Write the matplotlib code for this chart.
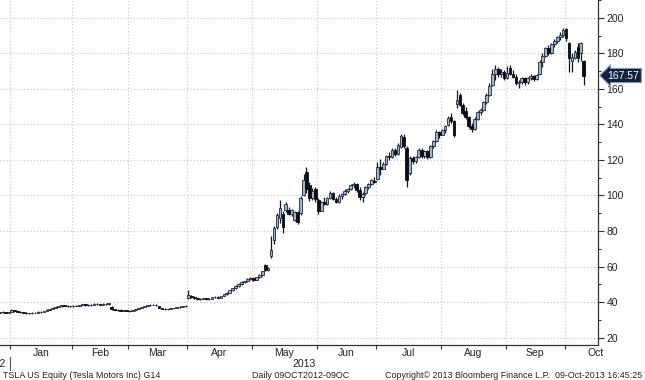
import matplotlib
matplotlib.use('Agg')
import matplotlib.pyplot as plt
import matplotlib.transforms as mtransforms
from matplotlib.lines import Line2D
import numpy as np
import pandas as pd

# TSLA daily OHLC, 26 Dec 2012 .. 09 Oct 2013
opens = [34.0, 34.3, 34.4, 33.9,
         34.6, 35.3, 34.8, 34.6, 34.3, 34.0, 33.8, 33.6, 34.0, 34.1, 34.6, 34.4, 35.0, 35.6, 36.0, 36.8, 37.4, 37.6, 38.1, 37.9, 37.7,
         37.6, 38.0, 37.8, 38.4, 38.7, 38.2, 38.6, 38.3, 39.0, 38.8, 38.5, 39.1, 38.8, 37.0, 35.9, 35.6, 35.4, 35.1, 35.3,
         35.2, 35.0, 35.4, 35.9, 36.6, 37.2, 37.7, 38.2, 38.5, 38.4, 37.6, 36.6, 36.1, 35.8, 36.0, 36.4, 36.7, 37.0, 37.4, 37.7,
         42.0, 43.5, 42.8, 42.1, 41.6, 41.9, 42.0, 41.5, 41.9, 42.6, 42.9, 42.5, 43.4, 44.3, 45.2, 46.5, 47.8, 49.0, 50.1, 51.3, 51.6, 53.0,
         53.6, 52.4, 53.9, 55.2, 60.8, 58.0, 66.0, 75.0, 82.0, 87.5, 89.8, 91.8, 91.8, 89.4, 86.0, 90.6, 90.0, 100.5, 113.0, 106.0, 98.5, 103.5,
         97.5, 91.5, 96.2, 95.3, 98.5, 101.6, 98.2, 96.4, 99.8, 100.6, 102.8, 103.5, 105.8, 106.2, 103.0, 99.0, 101.2, 104.8, 106.4, 108.0,
         109.5, 116.2, 115.2, 117.8, 122.0, 121.5, 125.8, 123.4, 127.5, 133.0, 126.8, 112.5, 121.0, 119.2, 121.5, 125.9, 122.4, 125.0, 121.6, 127.8, 130.8, 135.6,
         134.3, 136.8, 139.5, 144.0, 141.8, 151.5, 156.5, 151.2, 147.5, 144.2, 139.0, 137.2, 143.2, 146.8, 148.0, 152.4, 156.8, 162.0, 168.5, 171.5, 168.2, 169.6,
         166.0, 172.0, 168.5, 167.0, 163.5, 164.2, 166.1, 163.8, 165.9, 167.2, 165.4, 168.5, 175.2, 178.6, 182.8, 180.2, 185.2, 187.0, 189.4, 190.6,
         193.5, 185.8, 176.0, 177.5, 183.5, 180.0, 175.5]
highs = [34.6, 34.8, 34.6, 34.4,
         35.8, 35.5, 35.0, 34.8, 34.5, 34.3, 34.0, 34.2, 34.4, 34.8, 34.8, 35.2, 35.8, 36.3, 37.0, 37.6, 37.9, 38.4, 38.3, 38.1, 38.0,
         38.3, 38.2, 38.6, 38.9, 38.9, 38.8, 38.8, 39.2, 39.3, 39.0, 39.3, 39.5, 39.4, 37.5, 36.3, 36.0, 35.8, 35.6, 35.7,
         35.5, 35.6, 36.1, 36.8, 37.4, 37.9, 38.4, 38.7, 38.9, 38.7, 37.8, 36.9, 36.4, 36.2, 36.6, 36.9, 37.2, 37.6, 37.9, 38.1,
         46.5, 44.0, 43.2, 42.5, 42.2, 42.4, 42.2, 42.1, 42.8, 43.3, 43.6, 43.6, 44.6, 45.5, 46.8, 48.1, 49.4, 50.6, 51.7, 52.1, 53.4, 54.3,
         54.0, 54.2, 55.6, 57.6, 61.6, 59.6, 77.0, 83.0, 90.0, 97.5, 91.0, 96.2, 93.5, 92.2, 91.2, 91.0, 99.5, 112.0, 116.0, 107.5, 104.0, 105.0,
         98.8, 97.0, 99.2, 99.0, 102.8, 102.2, 99.0, 100.8, 101.5, 103.6, 104.5, 106.5, 107.6, 106.8, 104.6, 101.8, 105.6, 107.2, 109.5, 110.2,
         119.0, 120.5, 119.0, 122.8, 124.5, 126.6, 127.0, 129.4, 134.5, 134.5, 127.8, 122.0, 122.5, 122.2, 126.8, 126.5, 125.8, 125.6, 128.5, 131.5, 137.0, 136.4,
         137.6, 139.8, 144.8, 146.3, 142.5, 159.4, 157.5, 152.0, 149.6, 145.0, 141.0, 144.0, 147.5, 149.0, 153.2, 157.5, 163.2, 171.0, 173.5, 172.2, 171.0, 170.6,
         172.8, 173.6, 170.8, 168.2, 165.0, 167.0, 166.8, 166.5, 168.4, 168.0, 168.4, 176.3, 180.0, 183.5, 184.6, 186.0, 188.2, 190.0, 191.8, 194.5,
         194.5, 186.5, 180.0, 182.0, 186.0, 186.6, 176.2]
lows = [33.7, 33.9, 33.6, 33.7,
        34.4, 34.5, 34.2, 34.0, 33.7, 33.5, 33.3, 33.4, 33.8, 34.0, 34.1, 34.3, 34.9, 35.4, 35.9, 36.6, 37.1, 37.4, 37.6, 37.4, 37.3,
        37.4, 37.5, 37.7, 38.2, 38.0, 38.0, 38.0, 38.2, 38.6, 38.3, 38.4, 38.6, 38.6, 35.6, 35.3, 35.0, 34.8, 34.7, 34.9,
        34.6, 34.8, 35.2, 35.8, 36.4, 37.0, 37.5, 37.9, 38.1, 37.9, 36.4, 35.8, 35.5, 35.4, 35.8, 36.1, 36.4, 36.8, 37.1, 37.4,
        41.6, 42.4, 41.9, 41.3, 41.2, 41.5, 41.3, 41.2, 41.8, 42.3, 42.2, 42.4, 43.2, 44.0, 45.0, 46.3, 47.5, 48.6, 49.8, 50.5, 51.3, 52.4,
        51.8, 52.2, 53.5, 54.9, 57.2, 57.5, 65.0, 72.5, 81.0, 84.5, 79.0, 90.8, 88.8, 88.5, 85.6, 84.2, 89.0, 99.5, 101.5, 97.0, 97.5, 96.5,
        89.6, 91.0, 94.5, 94.8, 98.0, 97.5, 95.6, 96.0, 98.2, 100.0, 101.2, 103.0, 104.4, 102.0, 97.5, 96.6, 100.5, 103.8, 105.8, 106.8,
        108.8, 111.8, 114.8, 117.2, 120.2, 121.0, 122.5, 123.0, 126.6, 126.8, 105.0, 111.8, 117.8, 118.2, 121.0, 121.2, 121.0, 120.8, 121.2, 127.0, 130.2, 132.6,
        133.8, 135.4, 139.0, 140.8, 133.2, 149.5, 150.2, 145.6, 143.2, 137.8, 135.5, 136.8, 142.4, 145.6, 147.6, 151.8, 156.0, 161.5, 165.0, 167.0, 166.8, 165.2,
        165.8, 167.8, 166.2, 162.2, 160.4, 162.8, 162.5, 163.0, 165.0, 164.5, 164.8, 168.0, 172.2, 177.8, 179.0, 179.5, 183.5, 185.8, 187.6, 189.0,
        187.0, 169.5, 169.8, 176.8, 175.0, 175.5, 162.0]
closes = [34.3, 34.5, 33.9, 34.2,
          35.4, 34.8, 34.6, 34.3, 34.0, 33.8, 33.6, 34.0, 34.1, 34.6, 34.4, 35.0, 35.6, 36.0, 36.8, 37.4, 37.6, 38.1, 37.9, 37.7, 37.6,
          38.0, 37.8, 38.4, 38.7, 38.2, 38.6, 38.3, 39.0, 38.8, 38.5, 39.1, 38.8, 39.2, 35.9, 35.6, 35.4, 35.1, 35.3, 35.2,
          35.0, 35.4, 35.9, 36.6, 37.2, 37.7, 38.2, 38.5, 38.4, 38.3, 36.6, 36.1, 35.8, 36.0, 36.4, 36.7, 37.0, 37.4, 37.7, 37.9,
          43.9, 42.8, 42.1, 41.6, 41.9, 42.0, 41.5, 41.9, 42.6, 42.9, 42.5, 43.4, 44.3, 45.2, 46.5, 47.8, 49.0, 50.1, 51.3, 51.6, 53.0, 53.6,
          52.4, 53.9, 55.2, 57.2, 57.8, 59.1, 69.4, 81.5, 88.8, 93.0, 82.0, 95.4, 89.4, 91.6, 90.6, 84.8, 98.5, 109.0, 103.5, 98.5, 102.5, 97.8,
          91.2, 96.2, 95.3, 98.5, 101.6, 98.2, 96.4, 99.8, 100.6, 102.8, 103.5, 105.8, 106.2, 103.0, 99.2, 100.8, 104.8, 106.4, 108.7, 107.4,
          116.2, 115.0, 117.8, 122.0, 121.5, 125.8, 123.4, 128.6, 133.5, 127.6, 108.5, 121.0, 119.2, 121.5, 125.9, 122.4, 125.0, 121.6, 127.8, 130.8, 135.6, 134.3,
          136.8, 138.9, 143.9, 141.8, 134.0, 153.5, 151.2, 146.6, 144.2, 139.0, 137.2, 143.2, 146.8, 148.0, 152.4, 156.8, 161.8, 168.5, 171.5, 168.2, 169.6, 166.0,
          169.2, 168.5, 167.0, 163.5, 164.2, 166.1, 163.8, 165.9, 167.2, 165.4, 167.8, 175.2, 178.6, 182.8, 180.2, 185.2, 187.0, 189.4, 190.6, 193.4,
          188.5, 177.5, 178.0, 181.0, 177.6, 185.8, 167.57]

holidays = ['2012-12-25', '2013-01-01', '2013-01-21', '2013-02-18', '2013-03-29',
            '2013-05-27', '2013-07-04', '2013-09-02']
last_price = 167.57

days = pd.bdate_range('2012-12-26', '2013-10-09')
days = days[~days.isin(pd.to_datetime(holidays))]

o = np.array(opens); h = np.array(highs); l = np.array(lows); c = np.array(closes)
x = np.arange(len(c))

plt.rcParams['font.family'] = ['Liberation Sans', 'DejaVu Sans']
txtc = '#222222'

fig = plt.figure(figsize=(6.45, 3.80), dpi=100)
ax = fig.add_axes([0, 35/380, 598/645, 345/380])

up = c >= o
ax.vlines(x, l, h, color='#121722', linewidth=0.9, zorder=2)
ax.bar(x[up], (c - o)[up], bottom=o[up], width=0.9, color='#a3b2c6',
       edgecolor='#1e2a40', linewidth=0.6, zorder=3)
ax.bar(x[~up], (o - c)[~up], bottom=c[~up], width=0.9, color='#0a0d14',
       edgecolor='#0a0d14', linewidth=0.6, zorder=3)

# month boundaries
month = days.month
starts = [i for i in range(1, len(days)) if month[i] != month[i-1]]
bounds = [s - 0.5 for s in starts]
jan = bounds[0]
px = 2.95  # pixels per trading day
left = jan - 10 / px
right = jan + 588 / px
ax.set_xlim(left, right)
ax.set_ylim(15.8, 210.1)

for b in bounds:
    ax.axvline(b, color='#c4c4c4', linestyle=(0, (1, 2)), linewidth=0.8, zorder=0)
for v in range(20, 201, 20):
    ax.axhline(v, color='#c4c4c4', linestyle=(0, (1, 2)), linewidth=0.8, zorder=0)

ax.set_xticks(bounds)
ax.set_xticklabels([])
ax.tick_params(axis='x', which='major', direction='out', length=3, width=0.8, color='#333333')

labpos = []
for k in range(len(bounds)):
    if k + 1 < len(bounds):
        labpos.append((bounds[k] + bounds[k+1]) / 2)
    else:
        labpos.append(bounds[k] + 10.5)
labnames = [days[s].strftime('%b') for s in starts]
ax.set_xticks(labpos, minor=True)
ax.set_xticklabels(labnames, minor=True, fontsize=7.5, color=txtc)
ax.tick_params(axis='x', which='minor', length=0, pad=2)

ax.yaxis.tick_right()
ax.set_yticks(range(20, 201, 20))
ax.set_yticks(range(30, 211, 20), minor=True)
ax.tick_params(axis='y', which='major', direction='out', length=4, width=0.8,
               color='#333333', labelsize=7.5, labelcolor=txtc, pad=2)
ax.tick_params(axis='y', which='minor', direction='out', length=2.5, width=0.8, color='#333333')

for s in ['top', 'left']:
    ax.spines[s].set_visible(False)
for s in ['right', 'bottom']:
    ax.spines[s].set_color('#333333')
    ax.spines[s].set_linewidth(0.9)

# last price tag
trans = mtransforms.blended_transform_factory(ax.transAxes, ax.transData)
ax.text(1.016, last_price, f'{last_price:.2f}', transform=trans, ha='left', va='center',
        fontsize=7.5, color='white', clip_on=False,
        bbox=dict(boxstyle='larrow,pad=0.2', fc='#10213d', ec='#8a9ab0', lw=0.8))

# year labels
xtrans = mtransforms.blended_transform_factory(ax.transData, ax.transAxes)
ax.text((jan + right) / 2, -0.04, '2013', transform=xtrans,
        ha='center', va='top', fontsize=7.5, color=txtc)
fig.text(6/645, 1 - 364/380, '2012', ha='right', va='center', fontsize=7.5, color=txtc)
fig.add_artist(Line2D([10/645, 10/645], [1 - 357/380, 1 - 370/380], color='#555555', linewidth=0.8))

# footer
fy = 1 - 376/380
fs = 6.4
fig.text(3/645, fy, 'TSLA US Equity (Tesla Motors Inc) G14', fontsize=fs, va='center', color=txtc)
fig.text(252/645, fy, 'Daily 09OCT2012-09OC', fontsize=fs, va='center', color=txtc)
fig.text(385/645, fy, 'Copyright\u00a9 2013 Bloomberg Finance L.P.', fontsize=fs, va='center', color=txtc)
fig.text(642/645, fy, '09-Oct-2013 16:45:25', fontsize=fs, va='center', ha='right', color=txtc)

fig.savefig('out.png', dpi=100, facecolor='white')
